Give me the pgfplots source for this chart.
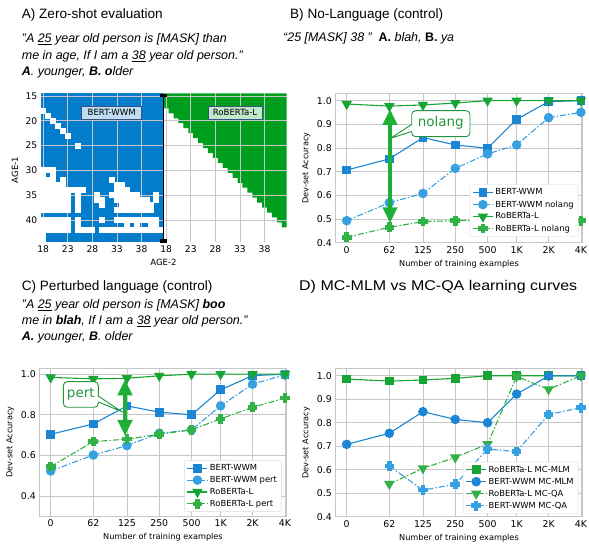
\documentclass[border=0pt]{standalone}
\usepackage{fontspec}
\setmainfont{Liberation Sans}
\newfontfamily\dejavu{DejaVu Sans}
\usepackage{graphicx}
\usepackage{pgfplots}
\pgfplotsset{compat=1.18}
\usetikzlibrary{arrows.meta}

\definecolor{hblue}{RGB}{4,124,204}
\definecolor{hgreen}{RGB}{0,158,30}
\definecolor{bblue}{RGB}{28,134,212}
\definecolor{lblue}{RGB}{55,160,225}
\definecolor{ggreen}{RGB}{22,165,50}
\definecolor{lgreen}{RGB}{50,178,70}
\definecolor{arrgreen}{RGB}{30,175,55}
\definecolor{callgreen}{RGB}{34,150,60}
\definecolor{boxblue}{RGB}{192,222,242}
\definecolor{boxgreen}{RGB}{192,232,202}
\definecolor{boxedge}{RGB}{60,80,130}

\pgfdeclareplotmark{fatplus}{%
  \pgfpathmoveto{\pgfqpoint{-0.4\pgfplotmarksize}{\pgfplotmarksize}}%
  \pgfpathlineto{\pgfqpoint{0.4\pgfplotmarksize}{\pgfplotmarksize}}%
  \pgfpathlineto{\pgfqpoint{0.4\pgfplotmarksize}{0.4\pgfplotmarksize}}%
  \pgfpathlineto{\pgfqpoint{\pgfplotmarksize}{0.4\pgfplotmarksize}}%
  \pgfpathlineto{\pgfqpoint{\pgfplotmarksize}{-0.4\pgfplotmarksize}}%
  \pgfpathlineto{\pgfqpoint{0.4\pgfplotmarksize}{-0.4\pgfplotmarksize}}%
  \pgfpathlineto{\pgfqpoint{0.4\pgfplotmarksize}{-\pgfplotmarksize}}%
  \pgfpathlineto{\pgfqpoint{-0.4\pgfplotmarksize}{-\pgfplotmarksize}}%
  \pgfpathlineto{\pgfqpoint{-0.4\pgfplotmarksize}{-0.4\pgfplotmarksize}}%
  \pgfpathlineto{\pgfqpoint{-\pgfplotmarksize}{-0.4\pgfplotmarksize}}%
  \pgfpathlineto{\pgfqpoint{-\pgfplotmarksize}{0.4\pgfplotmarksize}}%
  \pgfpathlineto{\pgfqpoint{-0.4\pgfplotmarksize}{0.4\pgfplotmarksize}}%
  \pgfpathclose
  \pgfusepathqfillstroke
}

\pgfplotsset{
  hm/.style={anchor=center, scale only axis, width=123bp, height=148.8bp,
    xmin=17.5, xmax=42.5, ymin=14.5, ymax=44.5, y dir=reverse,
    axis on top, grid=major, grid style={black!22, line width=0.7bp},
    xtick={18,23,28,33,38}, ytick={15,20,25,30,35,40},
    axis line style={draw=none}, major tick length=0pt,
    tick label style={font=\dejavu\fontsize{9.2}{10}\selectfont},
    /pgf/number format/assume math mode=true},
  lc/.style={anchor=south west, scale only axis, width=247.1bp,
    xmin=-0.35, xmax=7.3,
    xtick={0,1.32,2.36,3.36,4.36,5.26,6.25,7.25},
    xticklabels={0,62,125,250,500,1K,2K,4K},
    grid=major, grid style={black!22, line width=0.6bp},
    axis line style={black!22},
    major tick length=0pt,
    tick label style={font=\dejavu\fontsize{9.4}{10}\selectfont},
    yticklabel style={/pgf/number format/fixed, /pgf/number format/fixed zerofill, /pgf/number format/precision=1},
    /pgf/number format/assume math mode=true,
    label style={font=\dejavu\fontsize{8.2}{9}\selectfont},
    xlabel={Number of training examples},
    ylabel={Dev-set Accuracy},
    clip=false,
    legend cell align=left,
    legend image code/.code={\draw[mark repeat=2,mark phase=2] plot coordinates {(0bp,0bp) (10bp,0bp) (20bp,0bp)};},
    legend style={draw=black!15, rounded corners=2bp, fill=white,
      font=\dejavu\fontsize{8.4}{9.5}\selectfont, inner xsep=2.5bp, inner ysep=2bp, row sep=0.3bp},
    every axis plot/.append style={line width=1.1bp}},
  dd/.style={dash pattern=on 6bp off 2bp on 1.5bp off 2bp},
  msq/.style={mark=square*, mark size=3.8bp, mark options={solid}},
  mci/.style={mark=*, mark size=4.2bp, mark options={solid}},
  mtri/.style={mark=triangle*, mark size=5bp, mark options={solid, rotate=180}},
  mpl/.style={mark=fatplus, mark size=4.3bp, mark options={solid}},
}

\begin{document}
\begin{tikzpicture}[x=1bp,y=1bp]
\useasboundingbox (0,0) rectangle (589,544);

% ---------- A: left heatmap (BERT-WWM)
\begin{axis}[hm, at={(102.2bp,376.1bp)}]
\addplot[draw=none, fill=hblue] coordinates {(17.5,14.5) (42.5,14.5) (42.5,44.5) (17.5,44.5)};
\addplot[white, only marks, mark=square*, mark size=2.56bp, mark options={draw=white, line width=0pt, fill=white}] coordinates {
(18,18) (19,19) (20,20) (21,21) (22,22) (23,23) (25,25)
(18,30) (19,30) (20,30)
(18,31) (20,31)
(18,32) (19,32) (20,32) (22,32) (32,32)
(18,33) (19,33) (20,33) (21,33) (22,33) (33,33) (34,33)
(18,34) (19,34) (20,34) (21,34) (22,34) (23,34) (24,34) (25,34) (26,34) (33,34) (34,34) (35,34)
(18,35) (19,35) (20,35) (21,35) (22,35) (23,35) (25,35) (29,35) (32,35) (33,35) (34,35) (35,35) (36,35) (37,35) (41,35)
(18,36) (19,36) (20,36) (21,36) (22,36) (23,36) (25,36) (29,36) (30,36) (33,36) (34,36) (35,36) (36,36) (37,36) (38,36) (39,36) (41,36)
(18,37) (19,37) (20,37) (21,37) (22,37) (23,37) (25,37) (30,37) (34,37) (35,37) (36,37) (37,37) (38,37) (39,37) (40,37)
(18,38) (19,38) (20,38) (21,38) (22,38) (23,38) (25,38) (33,38) (34,38) (35,38) (36,38) (37,38) (38,38) (39,38) (40,38)
(18,40) (19,40) (20,40) (21,40) (22,40) (23,40) (25,40) (30,40) (33,40) (34,40) (35,40) (36,40) (37,40) (38,40) (39,40) (40,40) (41,40)
(18,41) (19,41) (20,41) (21,41) (22,41) (23,41) (25,41) (35,41) (37,41) (40,41) (41,41)
(18,42) (19,42) (20,42) (21,42) (22,42) (23,42) (25,42) (26,42) (27,42) (28,42) (30,42) (31,42) (32,42) (33,42) (34,42) (35,42) (36,42) (37,42) (38,42) (39,42) (40,42) (41,42) (42,42)
(18,43) (18,44)
};
\end{axis}

% ---------- A: right heatmap (RoBERTa-L)
\begin{axis}[hm, at={(225.2bp,376.1bp)}, yticklabels={}, clip=false]
\addplot[draw=none, fill=hgreen] coordinates {(17.5,14.5) (42.5,14.5) (42.5,41.5) (41.5,41.5) (41.5,40.5) (40.5,40.5) (40.5,39.5) (39.5,39.5) (39.5,38.5) (38.5,38.5) (38.5,37.5) (37.5,37.5) (37.5,36.5) (36.5,36.5) (36.5,35.5) (35.5,35.5) (35.5,34.5) (34.5,34.5) (34.5,33.5) (33.5,33.5) (33.5,32.5) (32.5,32.5) (32.5,31.5) (31.5,31.5) (31.5,30.5) (30.5,30.5) (30.5,29.5) (29.5,29.5) (29.5,28.5) (28.5,28.5) (28.5,27.5) (27.5,27.5) (27.5,26.5) (26.5,26.5) (26.5,25.5) (25.5,25.5) (25.5,24.5) (24.5,24.5) (24.5,23.5) (23.5,23.5) (23.5,22.5) (22.5,22.5) (22.5,21.5) (21.5,21.5) (21.5,20.5) (20.5,20.5) (20.5,19.5) (19.5,19.5) (19.5,18.5) (18.5,18.5) (18.5,17.5) (17.5,17.5)};
\addplot[black, line width=1.3bp, mark=square*, mark size=2.9bp, mark options={yscale=0.45}] coordinates {(17.45,14.9) (17.45,44.2)};
\end{axis}

% ---------- B: No-Language
\begin{axis}[lc, at={(335.4bp,301.3bp)}, height=149.1bp, ymin=0.4, ymax=1.03,
  ytick={0.4,0.5,0.6,0.7,0.8,0.9,1.0},
  legend style={at={(0.983,0.04)}, anchor=south east}]
\addplot[bblue, msq] coordinates {(0,0.707) (1.32,0.754) (2.36,0.844) (3.36,0.813) (4.36,0.799) (5.26,0.921) (6.25,0.996) (7.25,1.0)};
\addlegendentry{BERT-WWM}
\addplot[lblue, dd, mci] coordinates {(0,0.493) (1.32,0.569) (2.36,0.608) (3.36,0.714) (4.36,0.775) (5.26,0.813) (6.25,0.928) (7.25,0.951)};
\addlegendentry{BERT-WWM nolang}
\addplot[ggreen, mtri] coordinates {(0,0.986) (1.32,0.977) (2.36,0.982) (3.36,0.990) (4.36,1.0) (5.26,1.0) (6.25,1.0) (7.25,1.0)};
\addlegendentry{RoBERTa-L}
\addplot[lgreen, dd, mpl] coordinates {(0,0.423) (1.32,0.465) (2.36,0.489) (3.36,0.493) (4.36,0.495) (5.26,0.495) (6.25,0.495) (7.25,0.493)};
\addlegendentry{RoBERTa-L nolang}
\end{axis}

% ---------- C: Perturbed language
\begin{axis}[lc, at={(39.4bp,27.7bp)}, height=148.2bp, ymin=0.3, ymax=1.03,
  ytick={0.4,0.6,0.8,1.0},
  legend style={at={(0.98,0.03)}, anchor=south east}]
\addplot[bblue, msq] coordinates {(0,0.704) (1.32,0.755) (2.36,0.844) (3.36,0.813) (4.36,0.800) (5.26,0.923) (6.25,0.993) (7.25,1.0)};
\addlegendentry{BERT-WWM}
\addplot[lblue, dd, mci] coordinates {(0,0.523) (1.32,0.602) (2.36,0.648) (3.36,0.709) (4.36,0.726) (5.26,0.844) (6.25,0.951) (7.25,0.997)};
\addlegendentry{BERT-WWM pert}
\addplot[ggreen, mtri] coordinates {(0,0.984) (1.32,0.977) (2.36,0.980) (3.36,0.992) (4.36,1.0) (5.26,1.0) (6.25,1.0) (7.25,1.0)};
\addlegendentry{RoBERTa-L}
\addplot[lgreen, dd, mpl] coordinates {(0,0.545) (1.32,0.668) (2.36,0.680) (3.36,0.704) (4.36,0.726) (5.26,0.780) (6.25,0.837) (7.25,0.882)};
\addlegendentry{RoBERTa-L pert}
\end{axis}

% ---------- D: MC-MLM vs MC-QA
\begin{axis}[lc, at={(335.4bp,27.3bp)}, height=148bp, ymin=0.4, ymax=1.03,
  ytick={0.4,0.5,0.6,0.7,0.8,0.9,1.0},
  legend style={at={(0.983,0.02)}, anchor=south east}]
\addplot[ggreen, msq] coordinates {(0,0.986) (1.32,0.977) (2.36,0.982) (3.36,0.989) (4.36,1.0) (5.26,1.0) (6.25,1.0) (7.25,1.0)};
\addlegendentry{RoBERTa-L MC-MLM}
\addplot[bblue, mci] coordinates {(0,0.708) (1.32,0.755) (2.36,0.847) (3.36,0.814) (4.36,0.800) (5.26,0.922) (6.25,0.999) (7.25,1.0)};
\addlegendentry{BERT-WWM MC-MLM}
\addplot[lgreen, dd, mtri] coordinates {(1.32,0.539) (2.36,0.606) (3.36,0.652) (4.36,0.709) (5.26,0.997) (6.25,0.942) (7.25,1.0)};
\addlegendentry{RoBERTa-L MC-QA}
\addplot[lblue, dd, mpl] coordinates {(1.32,0.616) (2.36,0.513) (3.36,0.538) (4.36,0.688) (5.26,0.677) (6.25,0.835) (7.25,0.864)};
\addlegendentry{BERT-WWM MC-QA}
\end{axis}

% ---------- texts and annotations (pixel coordinates, y downwards)
\begin{scope}[shift={(0bp,544bp)}, yscale=-1, x=1bp, y=1bp]
\tikzset{ttl/.style={anchor=base west, inner sep=0, font=\fontsize{13.6}{16}\selectfont},
         qt/.style={anchor=base west, inner sep=0, font=\fontsize{12.5}{15}\selectfont\itshape}}
\node[ttl] at (21.7,18.5) {A) Zero-shot evaluation};
\node[qt] at (21.7,43) {"A \underline{25} year old person is [MASK] than};
\node[qt] at (21.7,59.5) {me in age, If I am a \underline{38} year old person.”};
\node[qt] at (21.7,76) {\textbf{A}. younger, \textbf{B. o}lder};
\node[ttl] at (290,18.5) {B) No-Language (control)};
\node[qt] at (283,42) {“25 [MASK] 38 ”\ \ \textbf{\upshape A.} blah, \textbf{\upshape B.} ya};
\node[ttl] at (21.7,291) {C) Perturbed language (control)};
\node[qt] at (21.7,309) {"A \underline{25} year old person is [MASK] \textbf{boo}};
\node[qt] at (21.7,325) {me in \textbf{blah}, If I am a \underline{38} year old person.”};
\node[qt] at (21.7,341) {\textbf{A.} younger, \textbf{B}. older};
\node[ttl] at (299,291) {\scalebox{1.18}[1.04]{D) MC-MLM vs MC-QA learning curves}};

% heatmap labels
\node[rotate=90, font=\dejavu\fontsize{8.6}{9}\selectfont] at (15,170) {AGE-1};
\node[font=\dejavu\fontsize{8.6}{9}\selectfont] at (163.5,262.7) {AGE-2};
\node[fill=boxblue, draw=boxedge, line width=0.6bp, inner sep=0, minimum width=60bp, minimum height=13.3bp, font=\dejavu\fontsize{8.6}{9}\selectfont] at (111.7,112.7) {BERT-WWM};
\node[fill=boxgreen, draw=boxedge, line width=0.6bp, inner sep=0, minimum width=54bp, minimum height=13.3bp, font=\dejavu\fontsize{8.6}{9}\selectfont] at (235,112.7) {RoBERTa-L};

% B arrow and callout
\draw[arrgreen, line width=4.5bp, {Triangle[width=14bp,length=16bp]}-{Triangle[width=14bp,length=16bp]}] (390,109) -- (390,223.3);
\draw[callgreen, fill=white, line width=0.9bp, rounded corners=4bp] (411.7,110.7) rectangle (470,136.7);
\fill[white] (413,124.5) -- (390.5,138.3) -- (413,131.5) -- cycle;
\draw[callgreen, line width=0.9bp] (411.7,124.5) -- (390.5,138.3) -- (411.7,131.5);
\node[callgreen, font=\dejavu\fontsize{13.5}{14}\selectfont] at (440.8,123.2) {nolang};

% C arrow and callout
\draw[arrgreen, line width=4.5bp, {Triangle[width=14bp,length=16bp]}-{Triangle[width=14bp,length=16bp]}] (125,379.3) -- (125,436);
\draw[callgreen, fill=white, line width=0.9bp, rounded corners=4bp] (63.3,381.7) rectangle (98.3,407.3);
\fill[white] (97,396) -- (121.5,411.5) -- (97,402) -- cycle;
\draw[callgreen, line width=0.9bp] (98.3,396) -- (121.5,411.5) -- (98.3,402);
\node[callgreen, font=\dejavu\fontsize{13.5}{14}\selectfont] at (80.8,394) {pert};
\end{scope}
\end{tikzpicture}
\end{document}
